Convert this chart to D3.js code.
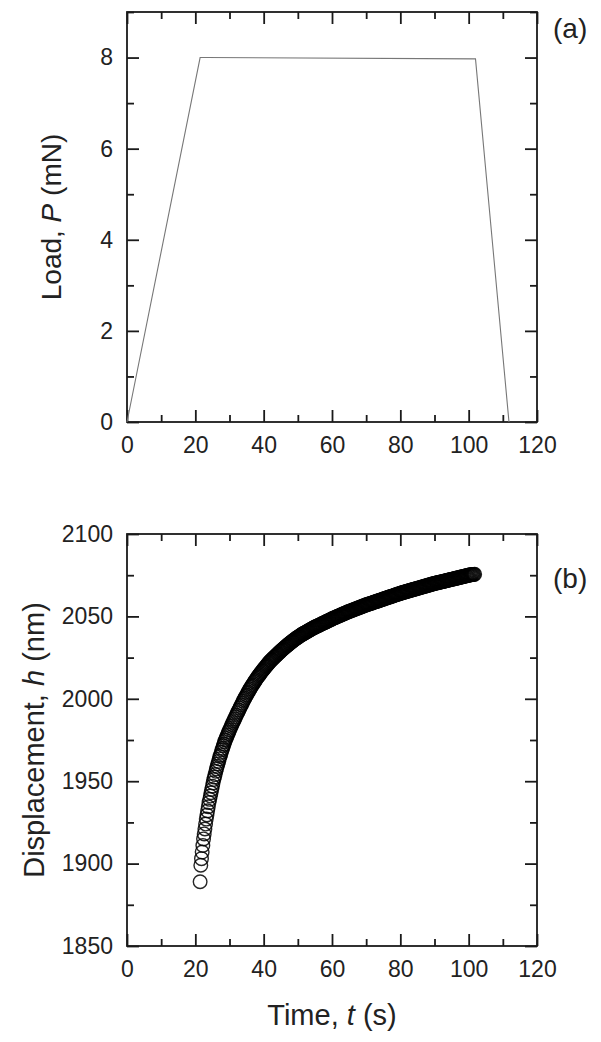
<!DOCTYPE html>
<html>
<head>
<meta charset="utf-8">
<script src="https://cdn.jsdelivr.net/npm/d3@7"></script>
<style>
  body { margin: 0; background: #fff; }
  svg { display: block; font-family: "Liberation Sans", Arial, sans-serif; }
  .tick text { font-size: 23px; fill: #222; }
</style>
</head>
<body>
<div id="svg-container"></div>
<script>
//////////////  Data  //////////////
// (a) load history
const loadTime = [0, 21.4, 23, 102, 111.8];
const loadValue = [0, 8.0, 8.0, 7.97, 0];

// (b) displacement during the hold: [time (s), h (nm)]
const holdData = [
  [21.4, 1889], [21.6, 1899], [21.8, 1903], [22.0, 1907], [22.2, 1911], [22.4, 1915], [22.6, 1918],
  [22.8, 1921], [23.0, 1924], [23.2, 1927], [23.4, 1929.5], [23.6, 1932], [23.8, 1934.5], [24.0, 1937],
  [24.2, 1939], [24.4, 1941], [24.6, 1943], [24.8, 1945], [25.0, 1947], [25.2, 1949], [25.4, 1951],
  [25.6, 1952.5], [25.8, 1954], [26.0, 1956], [26.2, 1957.5], [26.4, 1959], [26.6, 1960.5], [26.8, 1962],
  [27.0, 1963.5], [27.2, 1965], [27.4, 1966], [27.6, 1967.5], [27.8, 1969], [28.0, 1970], [28.2, 1971.5],
  [28.4, 1972.5], [28.6, 1974], [28.8, 1975], [29.0, 1976], [29.2, 1977], [29.4, 1978], [29.6, 1979],
  [29.8, 1980], [30.0, 1981],
  [30.25, 1982.1], [30.5, 1983.3], [30.75, 1984.4], [31.0, 1985.6], [31.25, 1986.7], [31.5, 1987.8],
  [31.75, 1988.9], [32.0, 1990.0], [32.25, 1991.1], [32.5, 1992.2], [32.75, 1993.2], [33.0, 1994.3],
  [33.25, 1995.3], [33.5, 1996.4], [33.75, 1997.4], [34.0, 1998.5], [34.25, 1999.5], [34.5, 2000.4],
  [34.75, 2001.4], [35.0, 2002.3], [35.25, 2003.3], [35.5, 2004.2], [35.75, 2005.1], [36.0, 2006.0],
  [36.25, 2006.9], [36.5, 2007.7], [36.75, 2008.5], [37.0, 2009.3], [37.25, 2010.1], [37.5, 2010.9],
  [37.75, 2011.7], [38.0, 2012.5], [38.25, 2013.2], [38.5, 2013.9], [38.75, 2014.6], [39.0, 2015.3],
  [39.25, 2016.0], [39.5, 2016.7], [39.75, 2017.3], [40.0, 2018.0], [40.25, 2018.6], [40.5, 2019.3],
  [40.75, 2019.9], [41.0, 2020.5], [41.25, 2021.2], [41.5, 2021.8], [41.75, 2022.4], [42.0, 2023.0],
  [42.25, 2023.5], [42.5, 2024.0], [42.75, 2024.5], [43.0, 2025.0], [43.25, 2025.5], [43.5, 2026.0],
  [43.75, 2026.5], [44.0, 2027.0], [44.25, 2027.5], [44.5, 2028.0], [44.75, 2028.5], [45.0, 2029.0],
  [45.25, 2029.5], [45.5, 2029.9], [45.75, 2030.4], [46.0, 2030.8], [46.25, 2031.3], [46.5, 2031.7],
  [46.75, 2032.2], [47.0, 2032.6], [47.25, 2033.0], [47.5, 2033.5], [47.75, 2033.9], [48.0, 2034.3],
  [48.25, 2034.7], [48.5, 2035.1], [48.75, 2035.5], [49.0, 2035.9], [49.25, 2036.3], [49.5, 2036.7],
  [49.75, 2037.0], [50.0, 2037.4], [50.25, 2037.7], [50.5, 2038.1], [50.75, 2038.4], [51.0, 2038.8],
  [51.25, 2039.1], [51.5, 2039.4], [51.75, 2039.7], [52.0, 2040.0], [52.25, 2040.3], [52.5, 2040.6],
  [52.75, 2040.9], [53.0, 2041.2], [53.25, 2041.5], [53.5, 2041.8], [53.75, 2042.1], [54.0, 2042.4],
  [54.25, 2042.7], [54.5, 2043.0], [54.75, 2043.2], [55.0, 2043.5], [55.25, 2043.7], [55.5, 2044.0],
  [55.75, 2044.2], [56.0, 2044.5], [56.25, 2044.7], [56.5, 2045.0], [56.75, 2045.2], [57.0, 2045.5],
  [57.25, 2045.7], [57.5, 2046.0], [57.75, 2046.2], [58.0, 2046.5], [58.25, 2046.7], [58.5, 2047.0],
  [58.75, 2047.2], [59.0, 2047.5], [59.25, 2047.7], [59.5, 2048.0], [59.75, 2048.2], [60.0, 2048.5],
  [60.25, 2048.7], [60.5, 2049.0], [60.75, 2049.2], [61.0, 2049.4], [61.25, 2049.6], [61.5, 2049.9],
  [61.75, 2050.1], [62.0, 2050.3], [62.25, 2050.6], [62.5, 2050.8], [62.75, 2051.0], [63.0, 2051.2],
  [63.25, 2051.5], [63.5, 2051.7], [63.75, 2051.9], [64.0, 2052.1], [64.25, 2052.4], [64.5, 2052.6],
  [64.75, 2052.8], [65.0, 2053.0], [65.25, 2053.2], [65.5, 2053.4], [65.75, 2053.6], [66.0, 2053.8],
  [66.25, 2054.0], [66.5, 2054.2], [66.75, 2054.4], [67.0, 2054.6], [67.25, 2054.8], [67.5, 2055.0],
  [67.75, 2055.2], [68.0, 2055.4], [68.25, 2055.6], [68.5, 2055.8], [68.75, 2056.0], [69.0, 2056.2],
  [69.25, 2056.4], [69.5, 2056.6], [69.75, 2056.8], [70.0, 2057.0], [70.25, 2057.2], [70.5, 2057.3],
  [70.75, 2057.5], [71.0, 2057.7], [71.25, 2057.9], [71.5, 2058.0], [71.75, 2058.2], [72.0, 2058.4],
  [72.25, 2058.6], [72.5, 2058.7], [72.75, 2058.9], [73.0, 2059.1], [73.25, 2059.3], [73.5, 2059.4],
  [73.75, 2059.6], [74.0, 2059.8], [74.25, 2060.0], [74.5, 2060.1], [74.75, 2060.3], [75.0, 2060.5],
  [75.25, 2060.7], [75.5, 2060.9], [75.75, 2061.0], [76.0, 2061.2], [76.25, 2061.4], [76.5, 2061.6],
  [76.75, 2061.7], [77.0, 2061.9], [77.25, 2062.1], [77.5, 2062.3], [77.75, 2062.4], [78.0, 2062.6],
  [78.25, 2062.8], [78.5, 2063.0], [78.75, 2063.1], [79.0, 2063.3], [79.25, 2063.5], [79.5, 2063.7],
  [79.75, 2063.8], [80.0, 2064.0], [80.25, 2064.2], [80.5, 2064.3], [80.75, 2064.5], [81.0, 2064.6],
  [81.25, 2064.8], [81.5, 2064.9], [81.75, 2065.1], [82.0, 2065.2], [82.25, 2065.4], [82.5, 2065.5],
  [82.75, 2065.7], [83.0, 2065.8], [83.25, 2066.0], [83.5, 2066.1], [83.75, 2066.3], [84.0, 2066.4],
  [84.25, 2066.6], [84.5, 2066.7], [84.75, 2066.9], [85.0, 2067.0], [85.25, 2067.2], [85.5, 2067.3],
  [85.75, 2067.5], [86.0, 2067.6], [86.25, 2067.8], [86.5, 2067.9], [86.75, 2068.1], [87.0, 2068.2],
  [87.25, 2068.4], [87.5, 2068.5], [87.75, 2068.7], [88.0, 2068.8], [88.25, 2069.0], [88.5, 2069.1],
  [88.75, 2069.3], [89.0, 2069.4], [89.25, 2069.6], [89.5, 2069.7], [89.75, 2069.9], [90.0, 2070.0],
  [90.25, 2070.1], [90.5, 2070.2], [90.75, 2070.4], [91.0, 2070.5], [91.25, 2070.6], [91.5, 2070.7],
  [91.75, 2070.9], [92.0, 2071.0], [92.25, 2071.1], [92.5, 2071.2], [92.75, 2071.4], [93.0, 2071.5],
  [93.25, 2071.6], [93.5, 2071.7], [93.75, 2071.9], [94.0, 2072.0], [94.25, 2072.1], [94.5, 2072.2],
  [94.75, 2072.4], [95.0, 2072.5], [95.25, 2072.6], [95.5, 2072.7], [95.75, 2072.9], [96.0, 2073.0],
  [96.25, 2073.1], [96.5, 2073.2], [96.75, 2073.4], [97.0, 2073.5], [97.25, 2073.6], [97.5, 2073.7],
  [97.75, 2073.9], [98.0, 2074.0], [98.25, 2074.1], [98.5, 2074.2], [98.75, 2074.4], [99.0, 2074.5],
  [99.25, 2074.6], [99.5, 2074.7], [99.75, 2074.9], [100.0, 2075.0], [100.25, 2075.1], [100.5, 2075.2],
  [100.75, 2075.3], [101.0, 2075.4], [101.25, 2075.5], [101.5, 2075.5], [101.75, 2075.6]
];

// ticks
const timeTicks = [0, 20, 40, 60, 80, 100, 120];
const timeMinor = [10, 30, 50, 70, 90, 110];
const loadTicks = [0, 2, 4, 6, 8];
const loadMinor = [1, 3, 5, 7, 9];
const dispTicks = [1850, 1900, 1950, 2000, 2050, 2100];
const dispMinor = [1875, 1925, 1975, 2025, 2075];

//////////////  Init  //////////////
const width = 601;
const height = 1042;
const svg = d3.select("#svg-container").append("svg")
  .attr("width", width).attr("height", height);
svg.append("rect").attr("width", width).attr("height", height).attr("fill", "#fff");

const left = 127, right = 537;
const panelA = { top: 12, bottom: 422 };
const panelB = { top: 534, bottom: 946 };

const x = d3.scaleLinear().domain([0, 120]).range([left, right]);
const yA = d3.scaleLinear().domain([0, 9]).range([panelA.bottom, panelA.top]);
const yB = d3.scaleLinear().domain([1850, 2100]).range([panelB.bottom, panelB.top]);

// frame with inward ticks on all four sides
function drawFrame(y, panel, majorY, minorY) {
  const major = 12, minor = 7;
  const fmt = d3.format("d");
  const add = (axis, tx, ty) => {
    const g = svg.append("g").attr("transform", `translate(${tx},${ty})`).call(axis);
    g.select(".domain").remove();
    g.selectAll(".tick line").attr("stroke", "#1a1a1a").attr("stroke-width", 1.8);
    return g;
  };
  // bottom
  add(d3.axisBottom(x).tickValues(timeTicks).tickSize(-major).tickPadding(15).tickFormat(fmt), 0, panel.bottom);
  add(d3.axisBottom(x).tickValues(timeMinor).tickSize(-minor).tickFormat(""), 0, panel.bottom);
  // top
  add(d3.axisTop(x).tickValues(timeTicks).tickSize(-major).tickFormat(""), 0, panel.top);
  add(d3.axisTop(x).tickValues(timeMinor).tickSize(-minor).tickFormat(""), 0, panel.top);
  // left
  add(d3.axisLeft(y).tickValues(majorY).tickSize(-major).tickPadding(14).tickFormat(fmt), left, 0);
  add(d3.axisLeft(y).tickValues(minorY).tickSize(-minor).tickFormat(""), left, 0);
  // right
  add(d3.axisRight(y).tickValues(majorY).tickSize(-major).tickFormat(""), right, 0);
  add(d3.axisRight(y).tickValues(minorY).tickSize(-minor).tickFormat(""), right, 0);

  svg.append("rect")
    .attr("x", left).attr("y", panel.top)
    .attr("width", right - left).attr("height", panel.bottom - panel.top)
    .attr("fill", "none").attr("stroke", "#1a1a1a").attr("stroke-width", 1.8);
}

drawFrame(yA, panelA, loadTicks, loadMinor);
drawFrame(yB, panelB, dispTicks, dispMinor);

//////////////  (a) load curve  //////////////
const line = d3.line()
  .x((d, i) => x(loadTime[i]))
  .y((d) => yA(d));

svg.append("path")
  .datum(loadValue)
  .attr("fill", "none")
  .attr("stroke", "#777")
  .attr("stroke-width", 1.1)
  .attr("d", line);

//////////////  (b) hold displacement  //////////////
svg.append("g")
  .selectAll("circle")
  .data(holdData)
  .join("circle")
  .attr("cx", (d) => x(d[0]))
  .attr("cy", (d) => yB(d[1]))
  .attr("r", 6.8)
  .attr("fill", "none")
  .attr("stroke", "#000")
  .attr("stroke-width", 1.4)
  .attr("stroke-opacity", 0.85);

//////////////  Labels  //////////////
function title(node, parts) {
  parts.forEach(([t, it]) => {
    node.append("tspan").text(t).attr("font-style", it ? "italic" : null);
  });
}

title(
  svg.append("text")
    .attr("transform", `translate(61,${(panelA.top + panelA.bottom) / 2}) rotate(-90)`)
    .attr("text-anchor", "middle").attr("font-size", 28).attr("fill", "#222"),
  [["Load, ", false], ["P", true], [" (mN)", false]]
);

title(
  svg.append("text")
    .attr("transform", `translate(44,${(panelB.top + panelB.bottom) / 2}) rotate(-90)`)
    .attr("text-anchor", "middle").attr("font-size", 29).attr("fill", "#222"),
  [["Displacement, ", false], ["h", true], [" (nm)", false]]
);

title(
  svg.append("text")
    .attr("x", (left + right) / 2).attr("y", 1025)
    .attr("text-anchor", "middle").attr("font-size", 29).attr("fill", "#222"),
  [["Time, ", false], ["t", true], [" (s)", false]]
);

svg.append("text").attr("x", 553).attr("y", 38)
  .attr("font-size", 28).attr("fill", "#222").text("(a)");
svg.append("text").attr("x", 553).attr("y", 588)
  .attr("font-size", 28).attr("fill", "#222").text("(b)");
</script>
</body>
</html>
